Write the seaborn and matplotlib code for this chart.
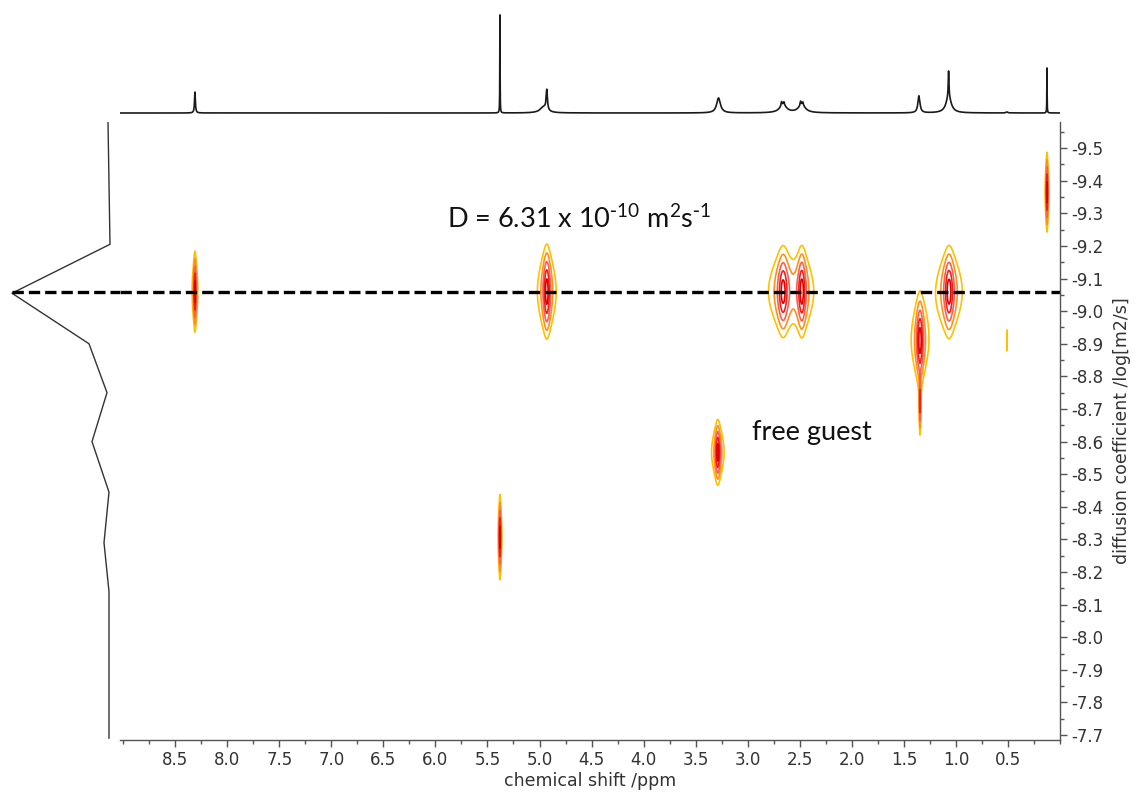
import numpy as np
import pandas as pd
import matplotlib
matplotlib.use("Agg")
import matplotlib.pyplot as plt
import seaborn as sns
from matplotlib.ticker import MultipleLocator, FormatStrFormatter

# ---------------- data ----------------
# 1D 1H spectrum (top trace): peak centre (ppm), height (arb.), half-width (ppm)
spec_ppm    = [8.31, 5.38, 4.93, 4.96, 3.28, 2.66, 2.675, 2.652, 2.48, 2.492, 2.47, 1.355, 1.07, 1.07, 0.51, 0.125]
spec_height = [21.0, 98.0, 20.0, 6.0, 15.0, 8.0, 4.0, 3.0, 8.0, 4.0, 3.0, 17.0, 26.0, 16.0, 1.0, 45.0]
spec_width  = [0.005, 0.0015, 0.007, 0.04, 0.022, 0.04, 0.005, 0.005, 0.04, 0.005, 0.005, 0.012, 0.004, 0.03, 0.01, 0.0015]

# diffusion projection (left trace): log D sample points and intensity
proj_logd = [-9.58, -9.205, -9.055, -8.90, -8.75, -8.60, -8.445, -8.29, -8.14, -7.69]
proj_int  = [0.02, 0.0, 0.98, 0.21, 0.03, 0.18, 0.01, 0.06, 0.01, 0.01]

# DOSY cross peaks: chemical shift, log D, relative intensity, ppm width, logD width
dosy_ppm    = [8.31, 4.93, 2.66, 2.48, 1.066, 1.345, 1.345, 3.287, 5.38, 0.125, 0.509]
dosy_logd   = [-9.06, -9.06, -9.06, -9.06, -9.06, -8.91, -8.72, -8.567, -8.307, -9.365, -8.91]
dosy_height = [1.0, 1.0, 0.95, 0.95, 1.0, 1.0, 0.75, 1.0, 1.0, 1.0, 0.14]
dosy_gx     = [0.009, 0.03, 0.045, 0.034, 0.042, 0.028, 0.004, 0.02, 0.006, 0.006, 0.003]
dosy_sy     = [0.058, 0.068, 0.066, 0.066, 0.066, 0.067, 0.05, 0.047, 0.061, 0.057, 0.04]

d_line = -9.06
annot_main = r"D = 6.31 x 10$\mathregular{^{\text{-}10}}$ m$\mathregular{^{2}}$s$\mathregular{^{\text{-}1}}$"
annot_guest = "free guest"
xlabel = "chemical shift /ppm"
ylabel = "diffusion coefficient /log[m2/s]"

x_lim = (9.03, 0.0)
y_lim = (-7.685, -9.58)

# ---------------- style ----------------
sns.set_theme(style="white")
plt.rcParams["font.family"] = ["DejaVu Sans"]
plt.rcParams["axes.unicode_minus"] = False

W, H = 1135, 796
fig = plt.figure(figsize=(W / 100, H / 100), dpi=100)

def box(x0, y0, x1, y1):
    return [x0 / W, 1 - y1 / H, (x1 - x0) / W, (y1 - y0) / H]

ax = fig.add_axes(box(120, 122, 1060, 740))
ax_top = fig.add_axes(box(120, 10, 1060, 118), sharex=ax)
ax_left = fig.add_axes(box(0, 122, 120, 740), sharey=ax)

# ---------------- top 1D spectrum ----------------
xs = np.arange(0.0, 9.03, 0.0005)
spec = np.zeros_like(xs)
for c, h, w in zip(spec_ppm, spec_height, spec_width):
    spec += h / (1 + ((xs - c) / w) ** 2)
df_spec = pd.DataFrame({"ppm": xs, "I": spec})
sns.lineplot(data=df_spec, x="ppm", y="I", ax=ax_top, color="#1a1a1a", lw=1.2,
             estimator=None, sort=False)
ax_top.set_ylim(-5, 103)
ax_top.axis("off")

# ---------------- left projection ----------------
df_proj = pd.DataFrame({"I": proj_int, "logD": proj_logd})
sns.lineplot(data=df_proj, x="I", y="logD", ax=ax_left, color="#333333", lw=1.0,
             estimator=None, sort=False)
ax_left.set_xlim(1.1, -0.1)
ax_left.plot([proj_int[2], -0.1], [d_line, d_line], color="black", lw=2.4,
             linestyle=(0, (3.4, 1.5)))
ax_left.axis("off")

# ---------------- DOSY contour map ----------------
gx = np.arange(0.0, 9.03, 0.0015)
gy = np.arange(-9.58, -7.685, 0.003)
X, Y = np.meshgrid(gx, gy)
Z = np.zeros_like(X)
for c, d, h, g, s in zip(dosy_ppm, dosy_logd, dosy_height, dosy_gx, dosy_sy):
    Z += h / (1 + ((X - c) / g) ** 2) * np.exp(-0.5 * ((Y - d) / s) ** 2)
levels = [0.1, 0.22, 0.4, 0.62, 0.85]
cols = ["#FFC000", "#FF9020", "#F86050", "#F02020", "#E00000"]
ax.contour(X, Y, Z, levels=levels, colors=cols, linewidths=1.2)

ax.axhline(d_line, color="black", lw=2.4, linestyle=(0, (3.4, 1.5)))

ax.text(5.89, -9.255, annot_main, fontsize=19.5, family="Lato", color="#111111",
        ha="left", va="baseline")
ax.text(2.96, -8.604, annot_guest, fontsize=19.5, family="Lato", color="#111111",
        ha="left", va="baseline")

ax.set_xlim(*x_lim)
ax.set_ylim(*y_lim)

for s in ["top", "left"]:
    ax.spines[s].set_visible(False)
for s in ["bottom", "right"]:
    ax.spines[s].set_color("#555555")
    ax.spines[s].set_linewidth(1.0)

ax.yaxis.tick_right()
ax.yaxis.set_label_position("right")
ax.xaxis.set_major_locator(MultipleLocator(0.5))
ax.xaxis.set_minor_locator(MultipleLocator(0.25))
ax.yaxis.set_major_locator(MultipleLocator(0.1))
ax.yaxis.set_minor_locator(MultipleLocator(0.05))
ax.xaxis.set_major_formatter(FormatStrFormatter("%.1f"))
ax.yaxis.set_major_formatter(FormatStrFormatter("%.1f"))
ax.set_xticks([t for t in np.arange(0.5, 8.51, 0.5)])
ax.tick_params(axis="both", which="major", direction="out", length=5, width=1,
               color="#555555", labelsize=12, labelcolor="#333333", pad=3)
ax.tick_params(axis="both", which="minor", direction="out", length=3, width=1,
               color="#555555")
ax.tick_params(axis="x", which="both", bottom=True, top=False)
ax.tick_params(axis="y", which="both", right=True, left=False)
ax.set_xlabel(xlabel, fontsize=12.5, color="#333333", labelpad=2)
ax.set_ylabel(ylabel, fontsize=12.5, color="#333333", labelpad=7)
ax.grid(False)

fig.savefig("out.png", dpi=100)
